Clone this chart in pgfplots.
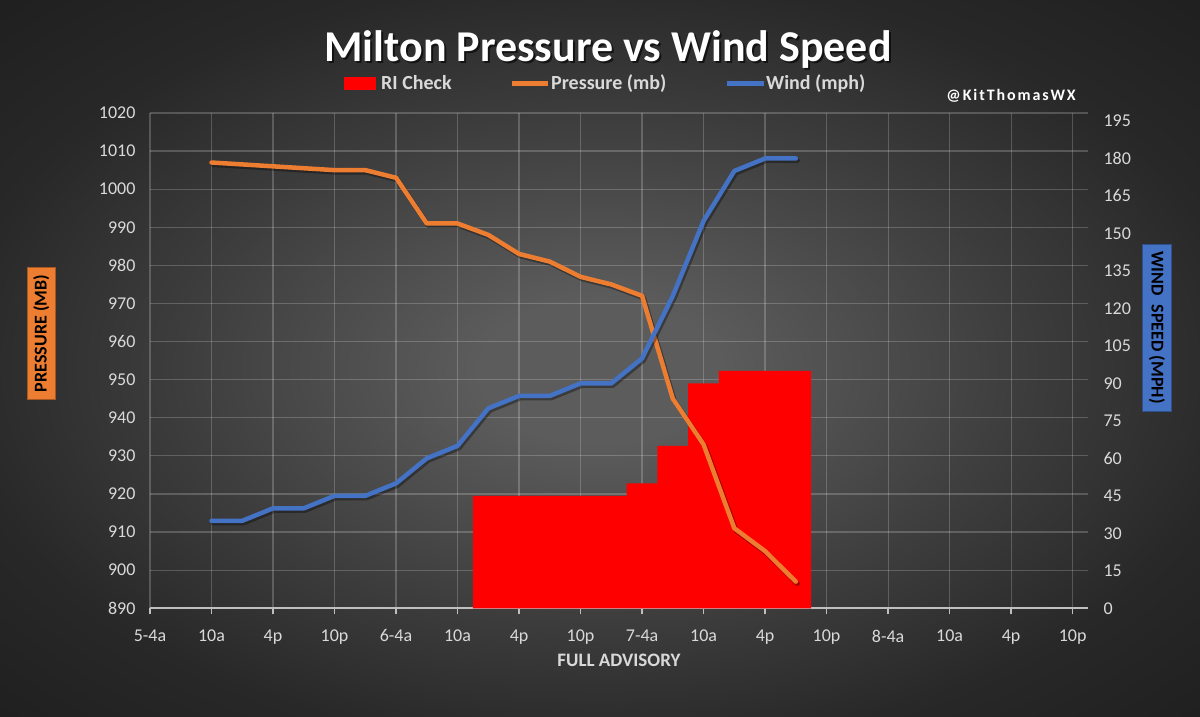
\documentclass[border=0pt]{standalone}
\usepackage{pgfplots}
\pgfplotsset{compat=1.18}
\usepackage{pgfplotstable}
\usepackage{fontspec}
\setmainfont{Carlito}

\definecolor{porange}{HTML}{ED7D31}
\definecolor{wblue}{HTML}{4472C4}
\definecolor{ticktxt}{HTML}{D9D9D9}
\definecolor{axgray}{HTML}{BFBFBF}
\definecolor{bgA}{HTML}{5C5C5C}
\definecolor{bgB}{HTML}{3C3C3C}
\definecolor{bgC}{HTML}{282828}
\definecolor{bgD}{HTML}{1F1F1F}

\pgfdeclareradialshading{bgshade}{\pgfpoint{0bp}{-1bp}}{%
 color(0bp)=(bgA); color(5bp)=(bgA); color(18bp)=(bgB); color(27bp)=(bgC); color(36bp)=(bgD); color(50bp)=(bgD)}

\pgfplotstableread{
x p
2 1007
3 1006.5
4 1006
5 1005.5
6 1005
7 1005
8 1003
9 991
10 991
11 988
12 983
13 981
14 977
15 975
16 972
17 945
18 933
19 911
20 905
21 897
}\pressuretable

\pgfplotstableread{
x w
2 35
3 35
4 40
5 40
6 45
7 45
8 50
9 60
10 65
11 80
12 85
13 85
14 90
15 90
16 100
17 125
18 155
19 175
20 180
21 180
}\windtable

\pgfplotstableread{
x r
11 45
12 45
13 45
14 45
15 45
16 50
17 65
18 90
19 95
20 95
21 95
}\ritable

\pgfplotsset{
  base/.style={
    scale only axis, width=938pt, height=495.3pt,
    at={(150pt,108.7pt)}, anchor=south west,
    xmin=0, xmax=30.5,
    /pgf/number format/assume math mode=true,
    /pgf/number format/1000 sep={},
    tick label style={font=\fontsize{18}{18}\selectfont, text=ticktxt},
  },
}

\begin{document}
\begin{tikzpicture}[x=1pt,y=1pt]
\shade[shading=bgshade] (0,0) rectangle (1200,717);
\useasboundingbox (0,0) rectangle (1200,717);

% grid + left axis + x axis
\begin{axis}[base,
  ymin=890, ymax=1020, ytick={890,900,...,1020},
  xtick={0,2,...,30},
  xticklabels={5-4a,10a,4p,10p,6-4a,10a,4p,10p,7-4a,10a,4p,10p,8-4a,10a,4p,10p},
  grid=major,
  major grid style={white, opacity=0.2, line width=1.2pt},
  axis x line*=bottom, axis y line*=left,
  x axis line style={draw=axgray, line width=2pt, -},
  y axis line style={draw=none},
  xtick style={draw=axgray, line width=1.5pt},
  ytick style={draw=none},
  xtick align=outside, major tick length=6pt,
  xticklabel style={yshift=-12pt},
  yticklabel style={xshift=-11pt},
]
\addplot[draw=none] coordinates {(0,890)};
\end{axis}

% RI check bars on wind axis
\begin{axis}[base,
  ymin=0, ymax=198.2, ytick={0,15,...,195},
  axis y line*=right, axis x line=none,
  y axis line style={draw=none}, ytick style={draw=none},
  yticklabel style={xshift=12pt},
]
\addplot[ybar, bar width=1, bar shift=0pt, fill=red, draw=none] table[x=x,y=r] {\ritable};
\end{axis}

% pressure line
\begin{axis}[base, ymin=890, ymax=1020, hide axis]
\addplot[black, opacity=0.35, line width=5pt, line join=round, line cap=round, xshift=1.5pt, yshift=-2pt] table[x=x,y=p] {\pressuretable};
\addplot[porange, line width=4.5pt, line join=round, line cap=round] table[x=x,y=p] {\pressuretable};
\end{axis}

% wind line
\begin{axis}[base, ymin=0, ymax=198.2, hide axis]
\addplot[black, opacity=0.35, line width=5pt, line join=round, line cap=round, xshift=1.5pt, yshift=-2pt] table[x=x,y=w] {\windtable};
\addplot[wblue, line width=4.5pt, line join=round, line cap=round] table[x=x,y=w] {\windtable};
\end{axis}

% title
\node[anchor=base, font=\fontsize{44}{44}\selectfont\bfseries, text=black, opacity=0.6] at (610,653) {Milton Pressure vs Wind Speed};
\node[anchor=base, font=\fontsize{44}{44}\selectfont\bfseries, text=white] at (608,655) {Milton Pressure vs Wind Speed};

% legend
\fill[red] (344,627) rectangle (376,640);
\node[anchor=base west, inner sep=0, font=\fontsize{20}{20}\selectfont\bfseries, text=ticktxt] at (381,627) {RI Check};
\draw[porange, line width=5pt] (512,633.5) -- (548,633.5);
\node[anchor=base west, inner sep=0, font=\fontsize{20}{20}\selectfont\bfseries, text=ticktxt] at (551,627) {Pressure (mb)};
\draw[wblue, line width=5pt] (727,633.5) -- (764,633.5);
\node[anchor=base west, inner sep=0, font=\fontsize{20}{20}\selectfont\bfseries, text=ticktxt] at (766,627) {Wind (mph)};

% credit
\node[anchor=base east, inner sep=0, font=\fontsize{16}{16}\selectfont\bfseries\addfontfeatures{LetterSpace=12}, text=white] at (1076,616) {@KitThomasWX};

% axis titles
\node[anchor=base, inner sep=0, font=\fontsize{19}{19}\selectfont\bfseries, text=ticktxt] at (619,50) {FULL ADVISORY};
\node[rotate=90, fill=porange, draw=porange!70!black, line width=0.6pt, text=black, font=\fontsize{18}{18}\selectfont\bfseries, minimum width=131.6pt, minimum height=27.3pt, inner sep=0pt] at (41.3,383.5) {PRESSURE (MB)};
\node[rotate=-90, fill=wblue, draw=wblue!70!black, line width=0.6pt, text=black, font=\fontsize{18}{18}\selectfont\bfseries, minimum width=167pt, minimum height=28.3pt, inner sep=0pt] at (1156.9,389.5) {WIND\enspace SPEED (MPH)};
\end{tikzpicture}
\end{document}
